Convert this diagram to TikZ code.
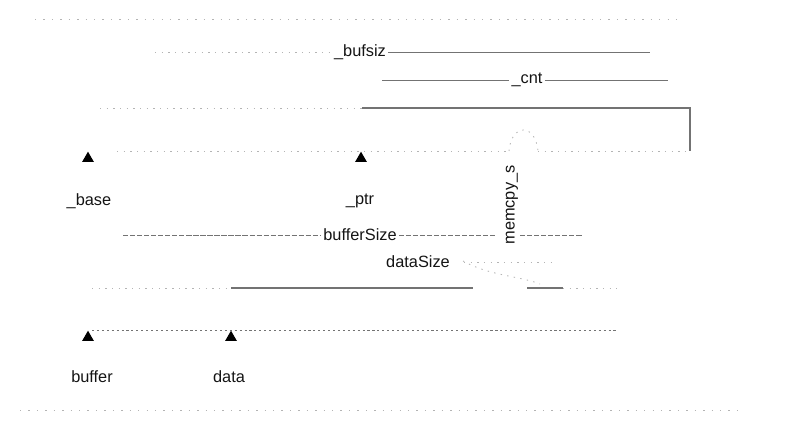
\documentclass[tikz,border=0pt]{standalone}
\usepackage{fontspec}
\setmainfont{Liberation Sans}
\usepackage{tikz}
\usetikzlibrary{shapes.geometric, arrows.meta, positioning, calc}
\definecolor{inkdark}{RGB}{20,20,20}
\definecolor{fadegray}{RGB}{180,180,180}
\definecolor{edgegray}{RGB}{115,115,115}
\tikzset{
  lbl/.style={font=\fontsize{9.3}{11}\selectfont, text=inkdark, inner sep=1pt},
  fadeline/.style={fadegray, line width=0.5pt, dash pattern=on 0.8pt off 3pt},
  dashline/.style={edgegray, line width=0.5pt, dash pattern=on 3pt off 1pt},
  solidline/.style={edgegray, line width=0.7pt},
  ptrtip/.style={regular polygon, regular polygon sides=3, fill=black,
    inner sep=0pt, minimum size=0.27cm}
}

\begin{document}
\begin{tikzpicture}[x=0.02cm, y=-0.02cm]
  \useasboundingbox (0,0) rectangle (803,448);
  % faint frame
  \coordinate (frameTL) at (35,19);
  \coordinate (frameTR) at (680,19);
  \coordinate (frameBL) at (20,410);
  \coordinate (frameBR) at (742,410);
  \draw[fadeline, dash pattern=on 0.8pt off 4pt] (frameTL) -- (frameTR);
  \draw[fadeline, dash pattern=on 0.8pt off 4pt] (frameBL) -- (frameBR);

  % stream buffer
  \coordinate (fileTL) at (100,108);
  \coordinate (filePtrTop) at (362,108);
  \coordinate (fileTR) at (690,108);
  \coordinate (fileBR) at (690,151);
  \coordinate (fileBL) at (117,151);
  \coordinate (fileGapL) at (509,151);
  \coordinate (fileGapR) at (538,151);
  \draw[fadeline] (fileTL) -- (filePtrTop);
  \draw[solidline] (filePtrTop) -- (fileTR) -- (fileBR);
  \draw[fadeline] (fileBL) -- (fileGapL);
  \draw[fadeline] (fileGapR) -- (fileBR);
  \draw[fadeline] (fileGapL) .. controls (511,124) and (535,122) .. (fileGapR);

  \node[ptrtip, anchor=corner 1] (baseTip) at (88,151) {};
  \node[ptrtip, anchor=corner 1] (ptrTip) at (361,151) {};
  \node[lbl] (baseLbl) at (89,201) {\_base};
  \node[lbl] (ptrLbl) at (360,201) {\_ptr};

  % _bufsiz and _cnt
  \coordinate (bufsizL) at (155,52);
  \coordinate (bufsizR) at (650,52);
  \node[lbl] (bufsiz) at (360,52) {\_bufsiz};
  \draw[fadeline] (bufsizL) -- (bufsiz);
  \draw[solidline, line width=0.5pt] (bufsiz) -- (bufsizR);
  \coordinate (cntL) at (382,80);
  \coordinate (cntR) at (668,80);
  \node[lbl] (cnt) at (527,80) {\_cnt};
  \draw[solidline, line width=0.5pt] (cntL) -- (cnt) -- (cntR);

  % user buffer
  \coordinate (bufTL) at (92,288);
  \coordinate (dataTop) at (231,288);
  \coordinate (bufGapL) at (473,288);
  \coordinate (bufGapR) at (527,288);
  \coordinate (dataEnd) at (563,288);
  \coordinate (bufTR) at (617,288);
  \coordinate (bufBL) at (92,330);
  \coordinate (bufBR) at (617,330);
  \draw[fadeline] (bufTL) -- (dataTop);
  \draw[solidline] (dataTop) -- (bufGapL);
  \draw[solidline] (bufGapR) -- (dataEnd);
  \draw[fadeline] (dataEnd) -- (bufTR);
  \draw[dashline, dash pattern=on 1.2pt off 1.6pt] (bufBL) -- (bufBR);

  \node[ptrtip, anchor=corner 1] (bufferTip) at (88,330) {};
  \node[ptrtip, anchor=corner 1] (dataTip) at (231,330) {};
  \node[lbl] (bufferLbl) at (92,377) {buffer};
  \node[lbl] (dataLbl) at (229,377) {data};

  % bufferSize and dataSize
  \coordinate (bsizeL) at (123,235);
  \coordinate (bsizeM) at (497,235);
  \coordinate (bsizeN) at (520,235);
  \coordinate (bsizeR) at (583,235);
  \node[lbl] (bufferSize) at (360,235) {bufferSize};
  \draw[dashline] (bsizeL) -- (bufferSize);
  \draw[dashline] (bufferSize) -- (bsizeM);
  \draw[dashline] (bsizeN) -- (bsizeR);
  \node[lbl] (dataSize) at (418,262) {dataSize};
  \coordinate (dsizeR) at (555,262);
  \draw[fadeline] (dataSize.east) ++(12,0) -- (dsizeR);

  % copy
  \node[lbl, rotate=90] (memcpy) at (512,205) {memcpy\_s};
  \coordinate (copyA) at (463,261);
  \coordinate (copyB) at (540,284);
  \draw[fadeline] (copyA) .. controls (490,276) and (520,276) .. (copyB);
\end{tikzpicture}
\end{document}
